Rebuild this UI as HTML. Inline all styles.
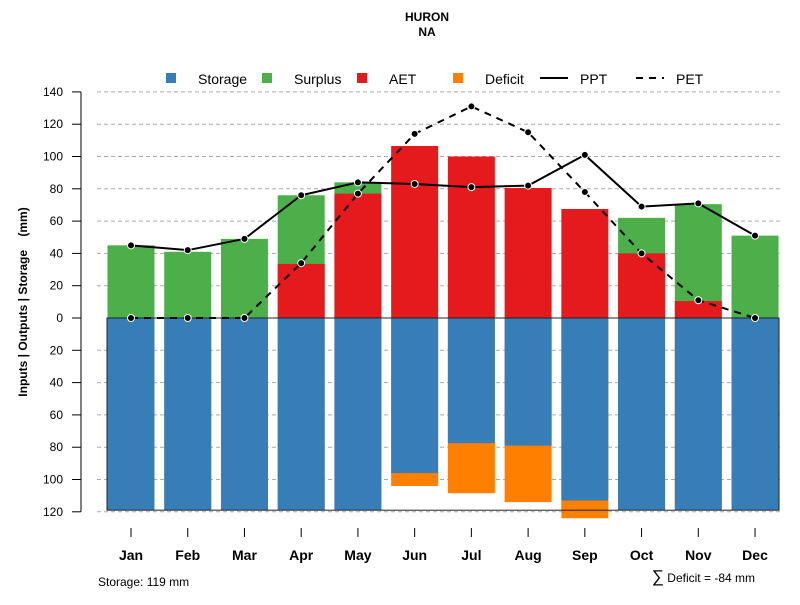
<!DOCTYPE html>
<html><head><meta charset="utf-8"><style>
body{margin:0;background:#fff}
svg text{font-family:"Liberation Sans",sans-serif}
</style></head><body>
<svg id="c" width="800" height="600" xmlns="http://www.w3.org/2000/svg">
<text x="427" y="21" text-anchor="middle" font-size="12" font-weight="bold">HURON</text>
<text x="427" y="36" text-anchor="middle" font-size="12" font-weight="bold">NA</text>
<g font-size="14">
<rect x="166" y="73" width="10" height="10" fill="#377eb8"/><text x="198" y="84">Storage</text>
<rect x="262" y="73" width="10" height="10" fill="#4daf4a"/><text x="294" y="84">Surplus</text>
<rect x="357" y="73" width="10" height="10" fill="#e41a1c"/><text x="389" y="84">AET</text>
<rect x="453" y="73" width="10" height="10" fill="#ff7f00"/><text x="485" y="84">Deficit</text>
<line x1="540" y1="78" x2="568" y2="78" stroke="#000" stroke-width="2"/><text x="580" y="84">PPT</text>
<line x1="636" y1="78" x2="664" y2="78" stroke="#000" stroke-width="2" stroke-dasharray="7,6"/><text x="676" y="84">PET</text>
</g>
<text transform="translate(27,302) rotate(-90)" text-anchor="middle" font-size="12" font-weight="bold">Inputs | Outputs | Storage&#160;&#160;&#160;&#160;(mm)</text>
<text x="98" y="586" font-size="12">Storage: 119 mm</text>
<text x="755" y="582" text-anchor="end" font-size="12"><tspan font-size="17">∑</tspan> Deficit = -84 mm</text>
<g id="grid"></g><g id="bars"></g><g id="lines"></g><g id="axes"></g>
</svg>
<script>
const months=["Jan","Feb","Mar","Apr","May","Jun","Jul","Aug","Sep","Oct","Nov","Dec"];
const surplusTotal=[45,41,49,76,84,0,0,0,0,62,70.5,51];
const aet=[0,0,0,33.5,77,106.5,100,80.5,67.5,40,10.5,0];
const storage=[119,119,119,119,119,96,77.5,79,113,119,119,119];
const deficit=[0,0,0,0,0,8,31,35,11,0,0,0];
const ppt=[45,42,49,76,84,83,81,82,101,69,71,51];
const pet=[0,0,0,34,77,114,131,115,78,40,11,0];
const yTicks=[140,120,100,80,60,40,20,0,20,40,60,80,100,120];
const yTickVals=[140,120,100,80,60,40,20,0,-20,-40,-60,-80,-100,-120];
const NS="http://www.w3.org/2000/svg";
const y=v=>318-v*1.615;
const x=i=>131+i*56.73;
const bw=47;
function mk(p,t,a){const e=document.createElementNS(NS,t);for(const k in a)e.setAttribute(k,a[k]);document.getElementById(p).appendChild(e);return e;}
yTickVals.forEach((v,i)=>{
 if(v!==0){const g=mk('grid','line',{x1:97,x2:780,y1:y(v),y2:y(v),stroke:'#aaa','stroke-dasharray':'4,3'});
 
 }
 const t=mk('axes','line',{x1:72,x2:81,y1:y(v),y2:y(v),stroke:'#000'});
 
 
 const l=mk('axes','text',{x:63,y:y(v)+4,'text-anchor':'end','font-size':12});l.textContent=yTicks[i];
 
 
});
const ax=mk('axes','line',{x1:81,x2:81,y1:y(140),y2:y(-120),stroke:'#000'});


months.forEach((m,i)=>{
 const cx=x(i);
 const r1=mk('bars','rect',{x:cx-bw/2,y:y(0),width:bw,height:y(-(storage[i]+deficit[i]))-y(0),fill:'#ff7f00'});
 
 
 const r2=mk('bars','rect',{x:cx-bw/2,y:y(0),width:bw,height:y(-storage[i])-y(0),fill:'#377eb8'});
 
 
 if(surplusTotal[i]>0){const r3=mk('bars','rect',{x:cx-bw/2,y:y(surplusTotal[i]),width:bw,height:y(0)-y(surplusTotal[i]),fill:'#4daf4a'});
 
 }
 if(aet[i]>0){const r4=mk('bars','rect',{x:cx-bw/2,y:y(aet[i]),width:bw,height:y(0)-y(aet[i]),fill:'#e41a1c'});
 
 }
 const tk=mk('axes','line',{x1:cx,x2:cx,y1:528,y2:537,stroke:'#000'});
 
 
 const lb=mk('axes','text',{x:cx,y:560,'text-anchor':'middle','font-size':14,'font-weight':'bold'});lb.textContent=m;
 
 
});
const box=mk('bars','rect',{x:107,y:y(0),width:672,height:y(-119)-y(0),fill:'none',stroke:'#222','stroke-width':1});


function series(arr,name,dash){
 const p=mk('lines','polyline',{points:arr.map((v,i)=>x(i)+','+y(v)).join(' '),fill:'none',stroke:'#000','stroke-width':2,'stroke-dasharray':dash});
 
 
 arr.forEach((v,i)=>{const c=mk('lines','circle',{cx:x(i),cy:y(v),r:3.5,fill:'#000',stroke:'#fff','stroke-width':1});
 
 });
}
series(pet,'pet','7,6');
series(ppt,'ppt','none');
</script>
</body></html>
